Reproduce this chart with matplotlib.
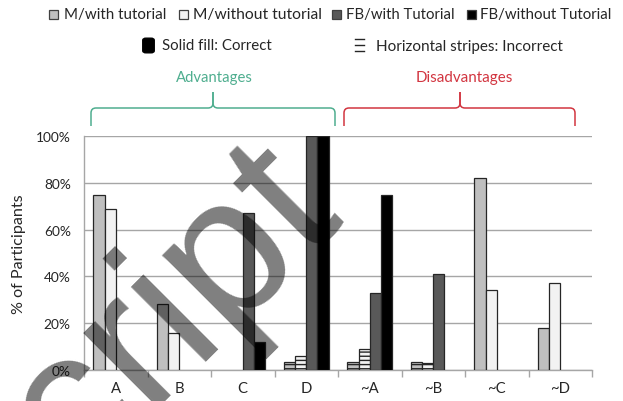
import numpy as np
import matplotlib
matplotlib.use("Agg")
import matplotlib.pyplot as plt
from matplotlib.patches import Rectangle, FancyBboxPatch, PathPatch
from matplotlib.path import Path
from matplotlib.ticker import PercentFormatter, FixedLocator, NullFormatter

# ---------------- data ----------------
categories = ['A', 'B', 'C', 'D', '~A', '~B', '~C', '~D']
series_names = ['M/with tutorial', 'M/without tutorial', 'FB/with Tutorial', 'FB/without Tutorial']
m_with = [75, 28, 0, 3.5, 3.5, 3.5, 82, 18]
m_without = [69, 16, 0, 6, 9, 3, 34, 37]
fb_with = [0, 0, 67, 100, 33, 41, 0, 0]
fb_without = [0, 0, 12, 100, 75, 0, 0, 0]
# True where the bar is "Horizontal stripes: Incorrect"
m_with_incorrect = [False, False, False, True, True, True, False, False]
m_without_incorrect = [False, False, False, True, True, True, False, False]
fb_with_incorrect = [False] * 8
fb_without_incorrect = [False] * 8
yticks = [0, 20, 40, 60, 80, 100]

series_values = [m_with, m_without, fb_with, fb_without]
series_incorrect = [m_with_incorrect, m_without_incorrect, fb_with_incorrect, fb_without_incorrect]
colors = ['#BFBFBF', '#F2F2F2', '#595959', '#000000']
edge = '#262626'
txtcol = '#262626'

FONT = ['Lato', 'DejaVu Sans']
plt.rcParams['font.family'] = FONT
plt.rcParams['hatch.color'] = '#000000'
plt.rcParams['hatch.linewidth'] = 1.0

W, H = 623, 402
fig = plt.figure(figsize=(W / 100, H / 100), dpi=100)
renderer = fig.canvas.get_renderer()


def fx(px):
    return px / W


def fy(py):
    return 1 - py / H


def fit(t, target_w):
    w = t.get_window_extent(renderer).width
    t.set_fontsize(t.get_fontsize() * target_w / w)
    return t


def size_for(s, target_w, base=10.0):
    t = fig.text(0, 0, s, fontsize=base)
    w = t.get_window_extent(renderer).width
    t.remove()
    return base * target_w / w


ax = fig.add_axes([fx(84), fy(371), fx(592) - fx(84), fy(137) - fy(371)])

x = np.arange(len(categories))
bw = 0.177
for i, (vals, inc, col) in enumerate(zip(series_values, series_incorrect, colors)):
    offs = (i - 1.5) * bw
    for xi, v, bad in zip(x, vals, inc):
        if v <= 0:
            continue
        ax.bar(xi + offs, v, width=bw, color=col, edgecolor=edge, linewidth=0.9,
               hatch='----' if bad else None, zorder=3)

tick_fs = size_for('100%', 35)
ax.set_xlim(-0.5, len(categories) - 0.5)
ax.set_ylim(0, 100)
ax.set_yticks(yticks)
ax.yaxis.set_major_formatter(PercentFormatter(decimals=0))
ax.grid(axis='y', color='#A6A6A6', linewidth=1.0, zorder=0)
ax.set_axisbelow(True)
for s in ['top', 'right']:
    ax.spines[s].set_visible(False)
for s in ['left', 'bottom']:
    ax.spines[s].set_color('#A6A6A6')
    ax.spines[s].set_linewidth(1.0)
ax.tick_params(axis='y', length=0, pad=9.5, labelsize=tick_fs, labelcolor=txtcol)
ax.set_xticks(x)
ax.set_xticklabels(categories)
ax.tick_params(axis='x', which='major', length=0, pad=8, labelsize=tick_fs * 1.08, labelcolor=txtcol)
ax.xaxis.set_minor_locator(FixedLocator(np.arange(-0.5, len(categories), 1.0)))
ax.xaxis.set_minor_formatter(NullFormatter())
ax.tick_params(axis='x', which='minor', length=5, width=1.0, color='#A6A6A6', direction='out')
ylab_fs = size_for('% of Participants', 120)
ax.set_ylabel('% of Participants', fontsize=ylab_fs, color=txtcol, labelpad=7)

# ---------------- legend row 1 ----------------
sq_cx = [53, 183, 336, 471]
txt_x = [64, 193, 346, 480]
txt_w = [102, 128, 108, 131]
for cx, tx, tw, name, col in zip(sq_cx, txt_x, txt_w, series_names, colors):
    fig.patches.append(Rectangle((fx(cx - 4.5), fy(15 + 4.5)), fx(9), 9 / H,
                                 transform=fig.transFigure, facecolor=col, edgecolor='#404040',
                                 linewidth=0.9))
    fit(fig.text(fx(tx), fy(15), name, fontsize=11, va='center', ha='left', color=txtcol), tw)

# ---------------- legend row 2 ----------------
fig.patches.append(FancyBboxPatch((fx(144), fy(53)), fx(9), 13 / H,
                                  boxstyle='round,pad=0.002,rounding_size=0.005',
                                  transform=fig.transFigure, facecolor='black', edgecolor='black'))
fit(fig.text(fx(162), fy(46), 'Solid fill: Correct', fontsize=11, va='center', ha='left',
             color=txtcol), 110)
for yy in [40, 46, 52]:
    fig.add_artist(plt.Line2D([fx(355), fx(364)], [fy(yy), fy(yy)], transform=fig.transFigure,
                              color=txtcol, linewidth=1.0))
fit(fig.text(fx(376), fy(47), 'Horizontal stripes: Incorrect', fontsize=11, va='center',
             ha='left', color=txtcol), 186)

# ---------------- group labels and braces ----------------
teal = '#4FAE8F'
red = '#D23540'
fit(fig.text(fx(214), fy(78), 'Advantages', fontsize=11, ha='center', va='center', color=teal), 77)
fit(fig.text(fx(464), fy(78), 'Disadvantages', fontsize=11, ha='center', va='center', color=red), 97)


def brace(x0, x1, xm, yh, yend, ytip, color, r=5):
    codes = [Path.MOVETO, Path.LINETO, Path.CURVE3, Path.CURVE3, Path.LINETO,
             Path.CURVE3, Path.CURVE3, Path.LINETO]
    for xe, sgn in ((x0, 1), (x1, -1)):
        vv = [(xe, yend), (xe, yh + r), (xe, yh), (xe + sgn * r, yh), (xm - sgn * r, yh),
              (xm, yh), (xm, yh - r), (xm, ytip)]
        p = Path([(fx(a), fy(b)) for a, b in vv], codes)
        fig.patches.append(PathPatch(p, transform=fig.transFigure, facecolor='none',
                                     edgecolor=color, linewidth=1.1))


brace(91, 335, 213, 109, 127, 93, teal)
brace(344, 575, 460, 109, 127, 93, red)

# ---------------- watermark ----------------
E = 200.0
d = 1.612 * E * 0.7071
fig.text(fx(210 - d), fy(347 + d), 'Script', fontsize=E * 0.72, rotation=45,
         rotation_mode='anchor', ha='left', va='baseline', fontweight='normal',
         family=['Liberation Sans', 'DejaVu Sans'], color='black', alpha=0.5, zorder=10)

fig.savefig('out.png', dpi=100)
